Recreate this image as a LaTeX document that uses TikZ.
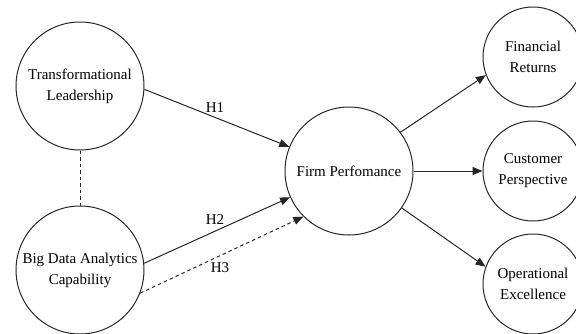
\documentclass[tikz,border=0pt]{standalone}
\usepackage{fontspec}
\setmainfont{Liberation Serif}
\usetikzlibrary{arrows.meta}
\begin{document}
\begin{tikzpicture}[x=1pt,y=-1pt,
  construct/.style={circle,draw=black!85,line width=1pt,inner sep=0pt,align=center,
    font=\fontsize{15}{21}\selectfont},
  big/.style={construct,minimum size=128pt},
  small/.style={construct,minimum size=100pt},
  conn/.style={draw=black!85,line width=1pt,-{Triangle[length=10pt,width=8pt]}},
  dconn/.style={conn,dash pattern=on 3.5pt off 3pt},
  hlabel/.style={font=\fontsize{15}{18}\selectfont,inner sep=0pt}]
\useasboundingbox (0,0) rectangle (576,333);
\node[big] (tl) at (80,86) {Transformational\\Leadership};
\node[big] (bda) at (80,270) {Big Data Analytics\\Capability};
\node[big] (fp) at (349,171) {Firm Perfomance};
\node[small] (fr) at (533,57) {Financial\\Returns};
\node[small] (cp) at (533,171) {Customer\\Perspective};
\node[small] (oe) at (533,284) {Operational\\Excellence};
\draw[draw=black!85,line width=1pt,dash pattern=on 3.5pt off 3pt] (tl.south) -- (bda.north);
\draw[conn] (tl.-3) -- (fp.158);
\draw[conn] (bda.6) -- (fp.204.6);
\draw[dconn] (bda.-21.6) -- (fp.225);
\draw[conn] (fp.37.7) -- (fr.201);
\draw[conn] (fp.0) -- (cp.180);
\draw[conn] (fp.-35) -- (oe.160);
\node[hlabel] (h1) at (215,108) {H1};
\node[hlabel] (h2) at (215,220) {H2};
\node[hlabel] (h3) at (220,268) {H3};
\end{tikzpicture}
\end{document}
